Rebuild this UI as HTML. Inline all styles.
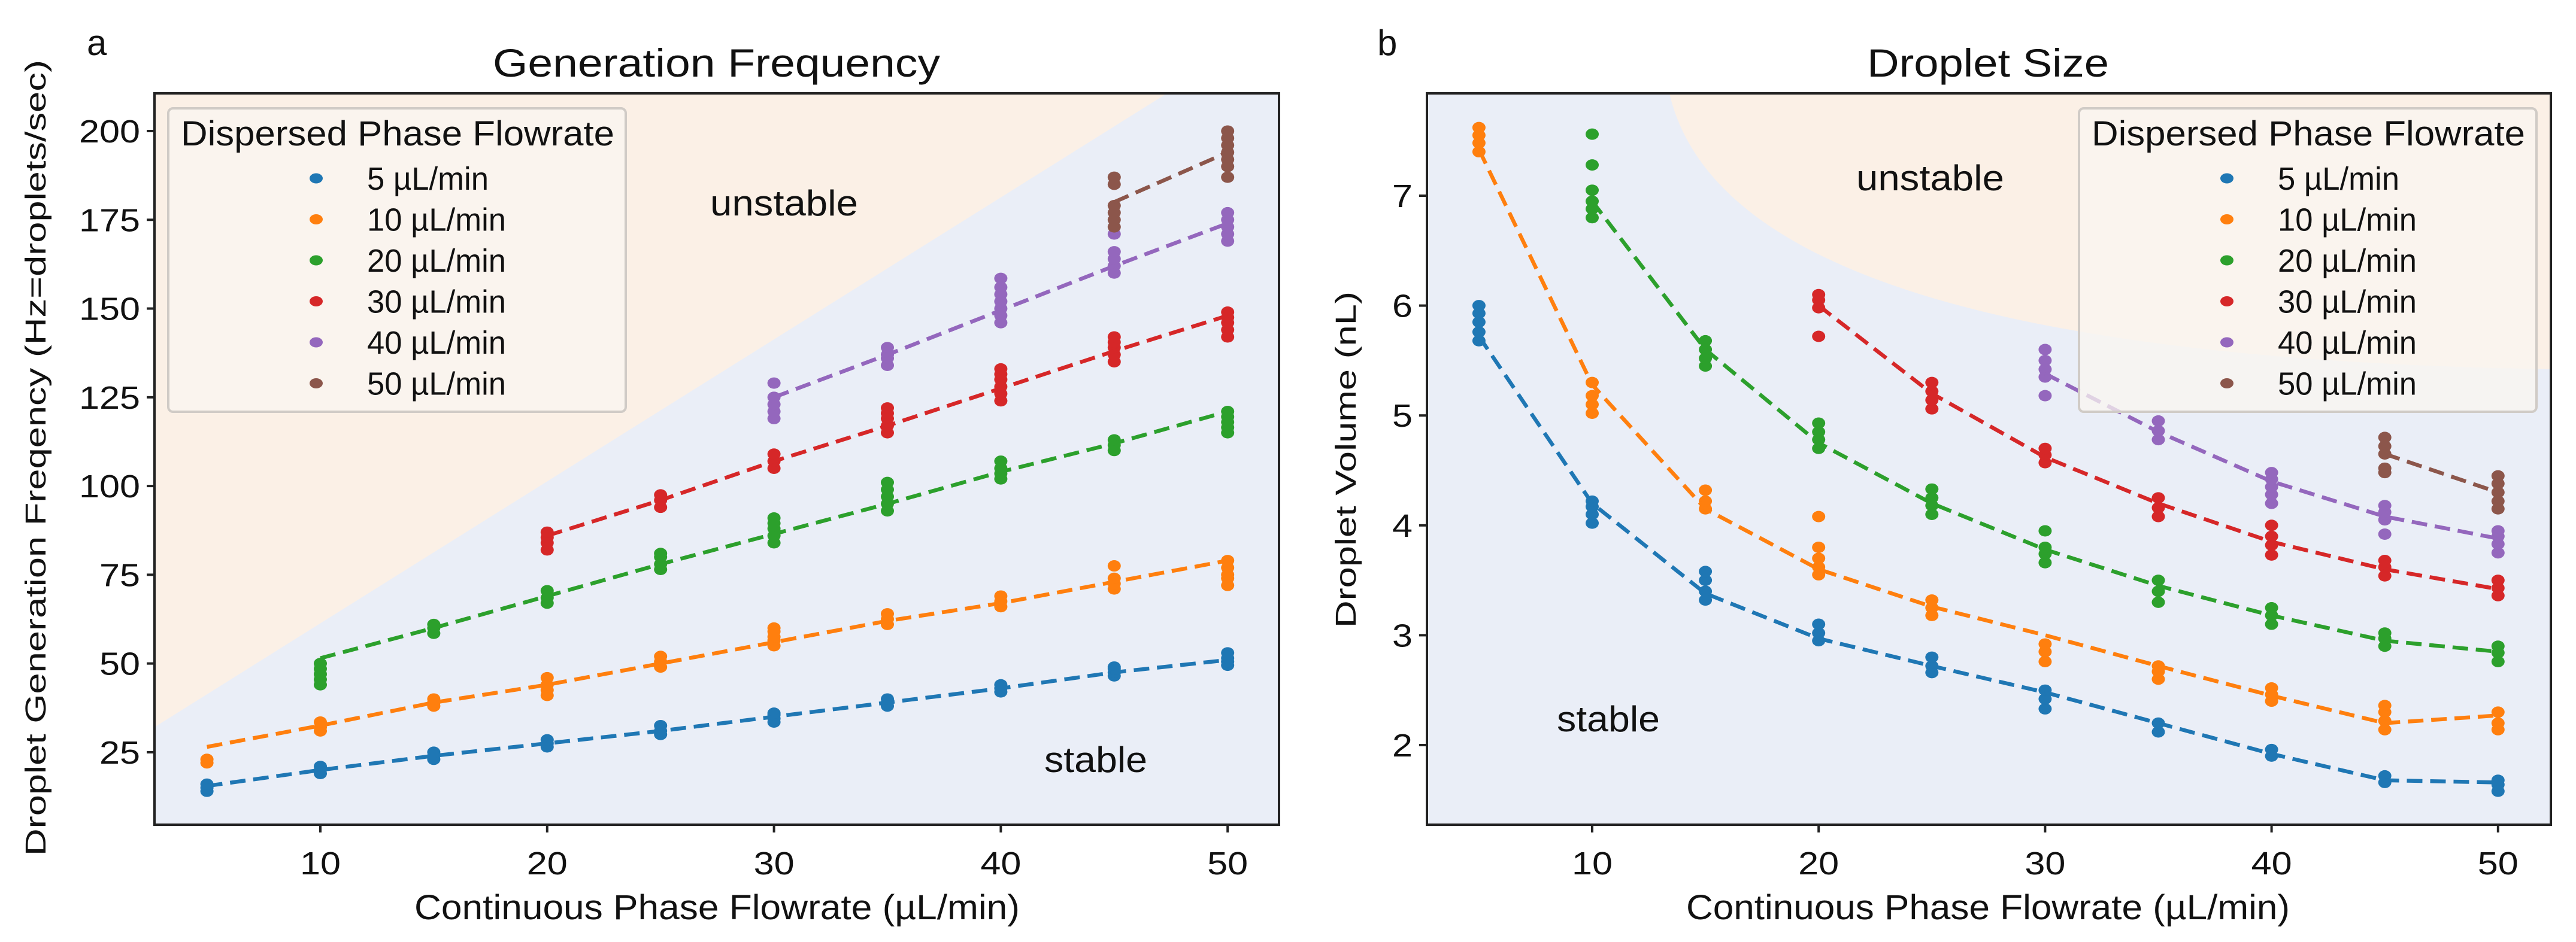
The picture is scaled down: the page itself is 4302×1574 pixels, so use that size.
<!DOCTYPE html>
<html><head><meta charset="utf-8"><style>
html,body{margin:0;padding:0;background:#fff;}
svg{display:block;font-family:"Liberation Sans","DejaVu Sans",sans-serif;}
</style></head><body>
<svg id="fig" width="4302" height="1574" viewBox="0 0 4302 1574" xmlns="http://www.w3.org/2000/svg"></svg>
<script>
// ---------- data ----------
const xCats = [5,10,15,20,25,30,35,40,45,50];
const seriesNames = ["5 µL/min","10 µL/min","20 µL/min","30 µL/min","40 µL/min","50 µL/min"];
const colors = ["#1f77b4","#ff7f0e","#2ca02c","#d62728","#9467bd","#8c564b"];
// Panel a: generation frequency (mean line), null = no data
const freq5  = [15.5,20,24,27.5,31,35,39,43,47.5,51];
const freq10 = [26.5,32.5,39,44,50,56,62,67,73,79];
const freq20 = [null,51.5,60,69,78,86.5,95,104,112,121];
const freq30 = [null,null,null,86,96,107,117,127.5,138,148];
const freq40 = [null,null,null,null,null,125,137,149.5,162,174];
const freq50 = [null,null,null,null,null,null,null,null,180,194];
// Panel a scatter points: [x, y]
const freqPts5 = [[5,14],[5,15],[5,16],[10,19],[10,20],[10,21],[15,23],[15,24],[15,25],[20,26.5],[20,27.5],[20,28.5],[25,30],[25,31],[25,32.5],[30,33.5],[30,34.5],[30,35.5],[30,36],[35,38],[35,39],[35,40],[40,42],[40,43],[40,44],[45,46.5],[45,47.5],[45,48.5],[45,49],[50,49.5],[50,50.5],[50,51.5],[50,53]];
const freqPts10 = [[5,22],[5,23],[10,31],[10,32],[10,33.5],[15,38],[15,39],[15,40],[20,41],[20,42.5],[20,44],[20,46],[25,49],[25,50.5],[25,52],[30,55],[30,56.5],[30,57.5],[30,59],[30,60],[35,61],[35,62.5],[35,64],[40,66],[40,67.5],[40,69],[45,71],[45,72.5],[45,74],[45,77.5],[50,72],[50,74],[50,75],[50,77],[50,79]];
const freqPts20 = [[10,44],[10,45.5],[10,47],[10,48.5],[10,50],[15,58.5],[15,60],[15,61],[20,67],[20,68.5],[20,70.5],[25,76.5],[25,78],[25,80],[25,81],[30,84],[30,86],[30,88],[30,89.5],[30,91],[35,93],[35,95],[35,97],[35,99],[35,101],[40,102],[40,103.5],[40,105],[40,107],[45,110],[45,111.5],[45,113],[50,115],[50,116.5],[50,118],[50,119.5],[50,121]];
const freqPts30 = [[20,82],[20,84],[20,85.5],[20,87],[25,94],[25,96],[25,97.5],[30,105],[30,107],[30,109],[35,115],[35,117],[35,119],[35,120.5],[35,122],[40,124],[40,126],[40,128],[40,130],[40,131.5],[40,133],[45,135],[45,137],[45,139],[45,140.5],[45,142],[50,142],[50,144],[50,146],[50,147.5],[50,149]];
const freqPts40 = [[30,119],[30,121],[30,123],[30,125],[30,129],[35,134],[35,136],[35,137],[35,139],[40,146],[40,148],[40,150],[40,152],[40,154],[40,156],[40,158.5],[45,160],[45,162],[45,164],[45,166],[45,171],[50,169],[50,171],[50,173],[50,175],[50,177]];
const freqPts50 = [[45,173],[45,175],[45,177],[45,179],[45,185],[45,187],[50,187],[50,190],[50,192],[50,194],[50,196],[50,198],[50,200]];
// Panel b: droplet volume (mean line)
const vol5  = [5.72,4.2,3.38,2.97,2.72,2.48,2.2,1.92,1.68,1.66];
const vol10 = [7.42,5.28,4.15,3.6,3.26,3.0,2.72,2.45,2.2,2.27];
const vol20 = [null,6.95,5.6,4.75,4.2,3.78,3.45,3.18,2.95,2.85];
const vol30 = [null,null,null,6.0,5.2,4.62,4.2,3.85,3.6,3.42];
const vol40 = [null,null,null,null,null,5.38,4.85,4.4,4.08,3.88];
const vol50 = [null,null,null,null,null,null,null,null,4.65,4.3];
const volPts5 = [[5,5.68],[5,5.76],[5,5.85],[5,5.93],[5,6.0],[10,4.02],[10,4.1],[10,4.17],[10,4.22],[15,3.32],[15,3.4],[15,3.5],[15,3.58],[20,2.95],[20,3.02],[20,3.1],[25,2.66],[25,2.72],[25,2.8],[30,2.33],[30,2.42],[30,2.5],[35,2.12],[35,2.2],[40,1.9],[40,1.96],[45,1.66],[45,1.72],[50,1.58],[50,1.64],[50,1.68]];
const volPts10 = [[5,7.4],[5,7.48],[5,7.55],[5,7.62],[10,5.02],[10,5.1],[10,5.18],[10,5.3],[15,4.15],[15,4.22],[15,4.32],[20,3.55],[20,3.62],[20,3.7],[20,3.8],[20,4.08],[25,3.18],[25,3.25],[25,3.32],[30,2.76],[30,2.85],[30,2.92],[35,2.6],[35,2.67],[35,2.72],[40,2.4],[40,2.46],[40,2.52],[45,2.14],[45,2.22],[45,2.3],[45,2.36],[50,2.14],[50,2.2],[50,2.3]];
const volPts20 = [[10,6.8],[10,6.88],[10,6.95],[10,7.05],[10,7.28],[10,7.56],[15,5.45],[15,5.52],[15,5.6],[15,5.68],[20,4.7],[20,4.78],[20,4.85],[20,4.93],[25,4.1],[25,4.18],[25,4.25],[25,4.33],[30,3.66],[30,3.74],[30,3.8],[30,3.95],[35,3.3],[35,3.4],[35,3.5],[40,3.1],[40,3.18],[40,3.25],[45,2.9],[45,2.97],[45,3.02],[50,2.76],[50,2.84],[50,2.9]];
const volPts30 = [[20,5.72],[20,5.98],[20,6.05],[20,6.1],[25,5.06],[25,5.14],[25,5.22],[25,5.3],[30,4.57],[30,4.64],[30,4.7],[35,4.08],[35,4.16],[35,4.25],[40,3.73],[40,3.82],[40,3.9],[40,4.0],[45,3.54],[45,3.62],[45,3.68],[50,3.36],[50,3.43],[50,3.5]];
const volPts40 = [[30,5.18],[30,5.35],[30,5.42],[30,5.5],[30,5.6],[35,4.78],[35,4.86],[35,4.95],[40,4.2],[40,4.28],[40,4.35],[40,4.42],[40,4.48],[45,3.92],[45,4.05],[45,4.12],[45,4.18],[50,3.75],[50,3.83],[50,3.9],[50,3.95]];
const volPts50 = [[45,4.48],[45,4.52],[45,4.65],[45,4.72],[45,4.8],[50,4.15],[50,4.22],[50,4.3],[50,4.38],[50,4.45]];
const freqTicks = [25,50,75,100,125,150,175,200];
const volTicks = [2,3,4,5,6,7];
const xTicks = [10,20,30,40,50];

const freqLines = [freq5,freq10,freq20,freq30,freq40,freq50];
const freqPts = [freqPts5,freqPts10,freqPts20,freqPts30,freqPts40,freqPts50];
const volLines = [vol5,vol10,vol20,vol30,vol40,vol50];
const volPts = [volPts5,volPts10,volPts20,volPts30,volPts40,volPts50];

const NS = "http://www.w3.org/2000/svg";
const svg = document.getElementById('fig');
function el(tag, attrs, parent, text){
  const e = document.createElementNS(NS, tag);
  for (const k in attrs) e.setAttribute(k, attrs[k]);
  if (text !== undefined) e.textContent = text;
  (parent||svg).appendChild(e);
  return e;
}

function panel(cfg){
  const g = el('g', {});
  
  
  const X = v => cfg.x0 + (v - 10) * cfg.xs;
  const Y = v => cfg.y0 - (v - cfg.yref) * cfg.ys;
  const clipId = cfg.name + '-clip';
  const defs = el('defs', {}, g);
  const cp = el('clipPath', {id: clipId}, defs);
  el('rect', {x:cfg.L, y:cfg.T, width:cfg.R-cfg.L, height:cfg.B-cfg.T}, cp);
  const bg = el('rect', {x:cfg.L, y:cfg.T, width:cfg.R-cfg.L, height:cfg.B-cfg.T, fill:'#eaeef7'}, g);
  
  
  const un = el('path', {d:cfg.unstable, fill:'#fbf0e6', 'clip-path':'url(#'+clipId+')'}, g);
  
  
  const t1 = el('text', {x:cfg.unX, y:cfg.unY, 'font-size':60, fill:'#111', textLength:247, lengthAdjust:'spacingAndGlyphs'}, g, 'unstable');
  
  
  const t2 = el('text', {x:cfg.stX, y:cfg.stY, 'font-size':60, fill:'#111', textLength:172, lengthAdjust:'spacingAndGlyphs'}, g, 'stable');
  
  
  for (let s = 0; s < 6; s++){
    const sg = el('g', {}, g);
    
    
    let d = '';
    cfg.lines[s].forEach((v, i) => {
      if (v === null) return;
      d += (d ? ' L ' : 'M ') + X(xCats[i]).toFixed(1) + ' ' + Y(v).toFixed(1);
    });
    cfg.pts[s].forEach(p => {
      const c = el('ellipse', {cx:X(p[0]), cy:Y(p[1]), rx:11, ry:9.5, fill:colors[s]}, sg);
      
      
    });
    const ln = el('path', {d:d, fill:'none', stroke:colors[s], 'stroke-width':6.5, 'stroke-dasharray':'26 13'}, sg);
    
    
  }
  const fr = el('rect', {x:cfg.L, y:cfg.T, width:cfg.R-cfg.L, height:cfg.B-cfg.T, fill:'none', stroke:'#222', 'stroke-width':4}, g);
  
  
  xTicks.forEach(v => {
    const tx = X(v);
    el('line', {x1:tx, x2:tx, y1:cfg.B, y2:cfg.B+13, stroke:'#222', 'stroke-width':4}, g);
    const t = el('text', {x:tx, y:cfg.B+83, 'font-size':54, 'text-anchor':'middle', fill:'#111', textLength:68, lengthAdjust:'spacingAndGlyphs'}, g, String(v));
    
    
  });
  cfg.yTicks.forEach(v => {
    const ty = Y(v);
    el('line', {x1:cfg.L-13, x2:cfg.L, y1:ty, y2:ty, stroke:'#222', 'stroke-width':4}, g);
    const s = String(v);
    const t = el('text', {x:cfg.L-24, y:ty+19, 'font-size':54, 'text-anchor':'end', fill:'#111', textLength:34*s.length, lengthAdjust:'spacingAndGlyphs'}, g, s);
    
    
  });
  const ti = el('text', {x:cfg.titleX, y:128, 'font-size':66, fill:'#111', textLength:cfg.titleW, lengthAdjust:'spacingAndGlyphs'}, g, cfg.title);
  
  
  const pl = el('text', {x:cfg.letterX, y:92, 'font-size':60, fill:'#111'}, g, cfg.letter);
  
  
  const xl = el('text', {x:cfg.xlX, y:1536, 'font-size':58, fill:'#111', textLength:cfg.xlW, lengthAdjust:'spacingAndGlyphs'}, g, 'Continuous Phase Flowrate (µL/min)');
  
  
  const yl = el('text', {x:0, y:0, 'font-size':48, fill:'#111', 'text-anchor':'middle', textLength:cfg.ylLen, lengthAdjust:'spacingAndGlyphs', transform:'translate('+cfg.ylX+','+cfg.ylY+') rotate(-90)'}, g, cfg.ylabel);
  
  
  const lg = el('g', {}, g);
  
  
  el('rect', {x:cfg.lgX, y:181, width:764, height:507, rx:8, fill:'rgba(250,245,240,0.75)', stroke:'#d0cbc6', 'stroke-width':4}, lg);
  const lt = el('text', {x:cfg.lgX+21, y:243, 'font-size':58, fill:'#111', textLength:724, lengthAdjust:'spacingAndGlyphs'}, lg, 'Dispersed Phase Flowrate');
  
  
  for (let s = 0; s < 6; s++){
    const ly = 298 + s*68.5;
    const e = el('g', {}, lg);
    
    
    el('ellipse', {cx:cfg.lgX+247, cy:ly, rx:11, ry:8.5, fill:colors[s]}, e);
    el('text', {x:cfg.lgX+332, y:ly+19, 'font-size':54, fill:'#111', textLength: s===0?203:232, lengthAdjust:'spacingAndGlyphs'}, e, seriesNames[s]);
  }
}

panel({name:'generation-frequency-panel', L:258, R:2136, T:156, B:1378,
  x0:535, xs:37.88, y0:219, yref:200, ys:5.931,
  unstable:'M 258 156 L 1949 156 L 258 1215 Z',
  unX:1186, unY:360, stX:1744, stY:1290,
  lines:freqLines, pts:freqPts, yTicks:freqTicks,
  title:'Generation Frequency', titleX:823, titleW:747, letter:'a', letterX:145,
  xlX:692, xlW:1011, ylabel:'Droplet Generation Freqency (Hz=droplets/sec)', ylX:76, ylY:765, ylLen:1330,
  lgX:281});

panel({name:'droplet-size-panel', L:2383, R:4260, T:156, B:1378,
  x0:2659, xs:37.82, y0:1245, yref:2, ys:183.6,
  unstable:'M 2788 156 C 2850 420 3250 600 4260 617 L 4260 156 Z',
  unX:3100, unY:318, stX:2600, stY:1222,
  lines:volLines, pts:volPts, yTicks:volTicks,
  title:'Droplet Size', titleX:3118, titleW:404, letter:'b', letterX:2300,
  xlX:2816, xlW:1008, ylabel:'Droplet Volume (nL)', ylX:2264, ylY:768, ylLen:562,
  lgX:3472});
</script>
</body></html>
